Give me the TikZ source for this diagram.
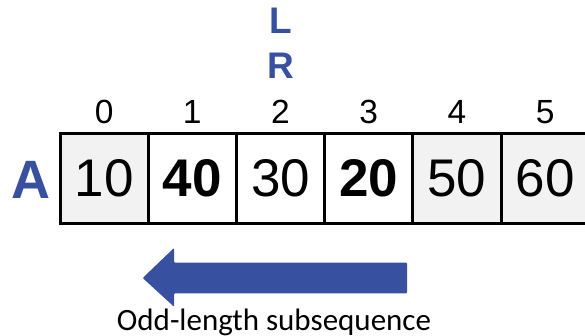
\documentclass[tikz,border=0pt]{standalone}
\usepackage{fontspec}
\setmainfont{Liberation Sans}
\newfontfamily\capfont{Carlito}
\definecolor{accent}{RGB}{55,80,160}
\definecolor{cellgray}{RGB}{242,242,242}
\begin{document}
\begin{tikzpicture}[x=1pt,y=-1pt,
  cell/.style={draw=black, line width=3pt, fill=white, minimum width=88.2pt,
    minimum height=90pt, inner sep=0pt, font=\fontsize{53}{60}\selectfont},
  grayc/.style={cell, fill=cellgray},
  idx/.style={font=\fontsize{33.5}{40}\selectfont, inner sep=0pt},
  ptr/.style={font=\fontsize{37}{44}\selectfont\bfseries, text=accent, inner sep=0pt},
  capstyle/.style={font=\capfont\fontsize{31}{36}\selectfont, inner sep=0pt}
]
\fill[white] (0,0) rectangle (585,336);
\useasboundingbox (0,0) rectangle (585,336);
% cells
\node[grayc] (c0) at (104.1,178.3) {10};
\node[cell]  (c1) at (192.3,178.3) {\bfseries 40};
\node[cell]  (c2) at (280.5,178.3) {30};
\node[cell]  (c3) at (368.7,178.3) {\bfseries 20};
\node[grayc] (c4) at (456.9,178.3) {50};
\node[grayc] (c5) at (545.1,178.3) {60};
% array name
\node[font=\fontsize{54}{60}\selectfont\bfseries, text=accent, inner sep=0pt] (A) at (30.5,179.5) {A};
% indices
\node[idx] (i0) at (c0.center |- 0,112) {0};
\node[idx] (i1) at (c1.center |- 0,112) {1};
\node[idx] (i2) at (c2.center |- 0,112) {2};
\node[idx] (i3) at (c3.center |- 0,112) {3};
\node[idx] (i4) at (c4.center |- 0,112) {4};
\node[idx] (i5) at (c5.center |- 0,112) {5};
% pointers
\node[ptr] (L) at (c2.center |- 0,21) {L};
\node[ptr] (R) at (c2.center |- 0,66) {R};
% block arrow
\fill[accent, rounded corners=1pt] (142.7,278) -- (174,248) -- (174,262.7) -- (407,262.7)
  -- (407,293.3) -- (174,293.3) -- (174,306.7) -- cycle;
% caption
\node[capstyle, anchor=base] (cap) at (274,330.7) {Odd-length subsequence};
\end{tikzpicture}
\end{document}
